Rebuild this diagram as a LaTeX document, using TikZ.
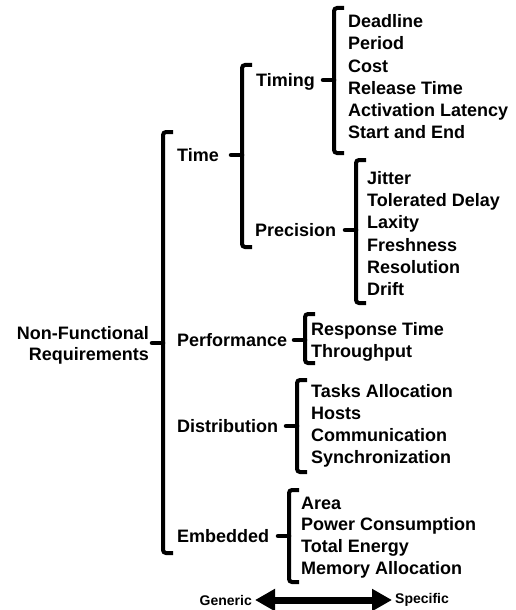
\documentclass[tikz,border=0pt]{standalone}
\usepackage{fontspec}
\setmainfont{Liberation Sans}
\usetikzlibrary{arrows.meta}
\begin{document}
\begin{tikzpicture}[x=1pt,y=-1pt,
  lbl/.style={font=\bfseries\fontsize{18}{21}\selectfont, inner sep=0pt, anchor=base west},
  small/.style={font=\bfseries\fontsize{14}{16}\selectfont, inner sep=0pt},
  brk/.style={line width=4pt, rounded corners=3pt},
  tick/.style={line width=4.5pt, line cap=round}]
\useasboundingbox (0,0) rectangle (515,610);

% root
\node[font=\bfseries\fontsize{18}{21}\selectfont, align=right, anchor=east, inner sep=0pt] (nfr) at (149,345) {Non-Functional\\Requirements};

% level 2
\node[lbl] (time) at (177,161) {Time};
\node[lbl] (perf) at (177,346) {Performance};
\node[lbl] (dist) at (177,432) {Distribution};
\node[lbl] (emb) at (177,542) {Embedded};
% level 3
\node[lbl] (timing) at (256,86) {Timing};
\node[lbl] (prec) at (255,236) {Precision};

% leaves: timing
\node[lbl] (l1) at (348,28) {Deadline};
\node[lbl] (l2) at (348,50) {Period};
\node[lbl] (l3) at (348,72) {Cost};
\node[lbl] (l4) at (348,94) {Release Time};
\node[lbl] (l5) at (348,116) {Activation Latency};
\node[lbl] (l6) at (348,138) {Start and End};
% leaves: precision
\node[lbl] (p1) at (367,184) {Jitter};
\node[lbl] (p2) at (367,206) {Tolerated Delay};
\node[lbl] (p3) at (367,228) {Laxity};
\node[lbl] (p4) at (367,251) {Freshness};
\node[lbl] (p5) at (367,273) {Resolution};
\node[lbl] (p6) at (367,295) {Drift};
% leaves: performance
\node[lbl] (f1) at (311,335) {Response Time};
\node[lbl] (f2) at (311,357) {Throughput};
% leaves: distribution
\node[lbl] (d1) at (311,397) {Tasks Allocation};
\node[lbl] (d2) at (311,419) {Hosts};
\node[lbl] (d3) at (311,441) {Communication};
\node[lbl] (d4) at (311,463) {Synchronization};
% leaves: embedded
\node[lbl] (e1) at (301,509) {Area};
\node[lbl] (e2) at (301,530) {Power Consumption};
\node[lbl] (e3) at (301,552) {Total Energy};
\node[lbl] (e4) at (301,574) {Memory Allocation};

% brackets: coordinates
\coordinate (rt) at (163,132); \coordinate (rb) at (163,553); \coordinate (rm) at (163,343); \coordinate (rk) at (152,343);
\coordinate (tt) at (242,65);  \coordinate (tb) at (242,247); \coordinate (tm) at (242,155); \coordinate (tk) at (231,155);
\coordinate (gt) at (334,8);   \coordinate (gb) at (334,153); \coordinate (gm) at (334,80);  \coordinate (gk) at (323,80);
\coordinate (pt) at (356,160); \coordinate (pb) at (356,303); \coordinate (pm) at (356,230); \coordinate (pk) at (345,230);
\coordinate (ft) at (305,314); \coordinate (fb) at (305,363); \coordinate (fm) at (305,340); \coordinate (fk) at (294,340);
\coordinate (dt) at (297,380); \coordinate (db) at (297,472); \coordinate (dm) at (297,426); \coordinate (dk) at (286,426);
\coordinate (et) at (289,490); \coordinate (eb) at (289,582); \coordinate (em) at (289,536); \coordinate (ek) at (278,536);

\foreach \b in {r,t,g,p,f,d,e}{
  \draw[brk] ([xshift=10pt]\b t) -- (\b t) -- (\b b) -- ([xshift=10pt]\b b);
  \draw[tick] (\b k) -- (\b m);
}

% generic / specific
\node[small, anchor=east] (gen) at (252,600) {Generic};
\node[small, anchor=west] (spec) at (395,600) {Specific};
\draw[line width=7pt, {Triangle[length=20pt,width=21pt]}-{Triangle[length=20pt,width=21pt]}] ([xshift=3pt]gen.east) -- ([xshift=-3pt]spec.west);
\end{tikzpicture}
\end{document}
